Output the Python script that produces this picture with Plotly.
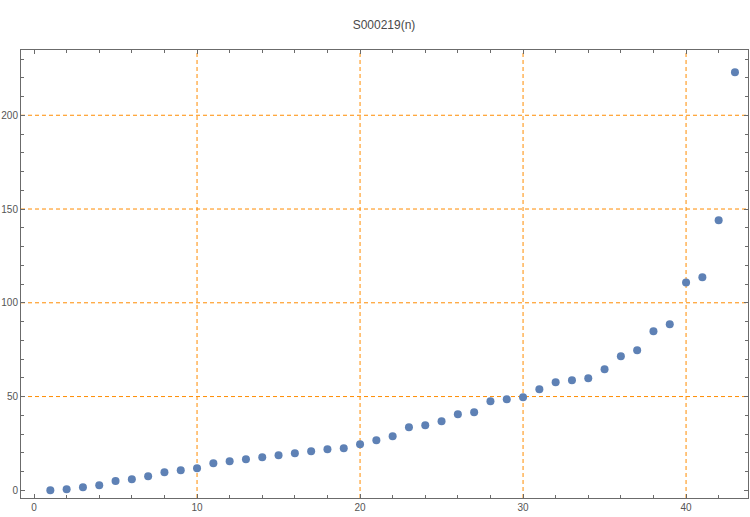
import plotly.graph_objects as go

# Data
n_values = list(range(1, 44))
s_values = [0, 0.5, 1.6, 2.7, 5, 5.9, 7.5, 9.6, 10.7, 11.7,
            14.4, 15.5, 16.5, 17.6, 18.7, 19.7, 20.8, 21.9, 22.4, 24.5,
            26.7, 28.8, 33.6, 34.7, 36.8, 40.5, 41.6, 47.5, 48.5, 49.6,
            53.9, 57.6, 58.7, 59.7, 64.5, 71.5, 74.7, 84.8, 88.5, 110.8,
            113.6, 144, 222.9]
x_ticks = [0, 10, 20, 30, 40]
y_ticks = [0, 50, 100, 150, 200]
grid_x = [10, 20, 30, 40]
grid_y = [50, 100, 150, 200]
title_text = "S000219(n)"

GRID_COLOR = "rgb(255,140,0)"
AXIS_COLOR = "#6b6b6b"
FONT = "Liberation Sans, Arial, sans-serif"

fig = go.Figure()
fig.add_trace(go.Scatter(
    x=n_values, y=s_values, mode="markers",
    marker=dict(color="#5E81B5", size=8, line=dict(width=0)),
    hoverinfo="x+y", showlegend=False,
))

shapes = []
for gx in grid_x:
    shapes.append(dict(type="line", xref="x", yref="paper", x0=gx, x1=gx, y0=0, y1=1,
                       line=dict(color=GRID_COLOR, width=1, dash="4px,3px"), layer="below"))
for gy in grid_y:
    shapes.append(dict(type="line", xref="paper", yref="y", x0=0, x1=1, y0=gy, y1=gy,
                       line=dict(color=GRID_COLOR, width=1, dash="4px,3px"), layer="below"))

axis_common = dict(
    showgrid=False, zeroline=False, showline=True, linecolor=AXIS_COLOR, linewidth=1,
    mirror="ticks", ticks="inside", ticklen=4, tickcolor=AXIS_COLOR, tickwidth=1,
    tickfont=dict(family=FONT, size=10, color="#555555"), automargin=False,
)

fig.update_layout(
    width=750, height=517,
    margin=dict(l=21, r=2, t=50, b=19),
    paper_bgcolor="white", plot_bgcolor="white",
    title=dict(text=title_text, x=0.512, xanchor="center", y=1 - 25 / 517, yanchor="middle",
               font=dict(family=FONT, size=12, color="#4a4a4a")),
    shapes=shapes,
    xaxis=dict(range=[-0.8, 43.8], tickvals=x_ticks, ticklabelstandoff=0,
               minor=dict(dtick=2, tick0=0, ticks="inside", ticklen=3, tickcolor=AXIS_COLOR, showgrid=False),
               **axis_common),
    yaxis=dict(range=[-4.1, 234.8], tickvals=y_ticks, ticklabelstandoff=0,
               minor=dict(dtick=10, tick0=0, ticks="inside", ticklen=3, tickcolor=AXIS_COLOR, showgrid=False),
               **axis_common),
)

fig.write_html(
    "out.html",
    config={"displayModeBar": False},
    post_script="document.body.style.margin='0';document.body.style.overflow='hidden';",
)
